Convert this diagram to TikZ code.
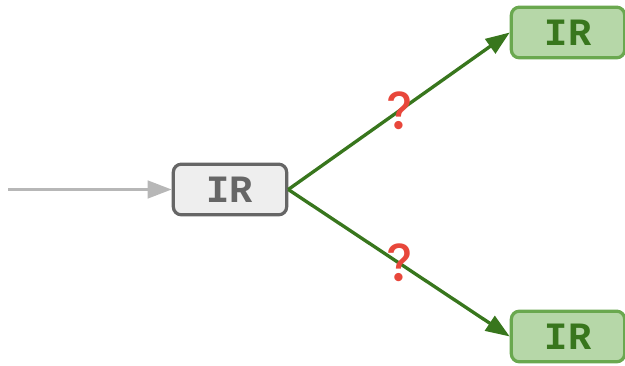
\documentclass[tikz,border=0pt]{standalone}
\usepackage{fontspec}
\setmonofont{Liberation Mono}
\newfontfamily\emojifont{Noto Emoji}
\usepackage{tikz}
\usetikzlibrary{arrows.meta, positioning}

\definecolor{irgray}{HTML}{666666}
\definecolor{irfill}{HTML}{EEEEEE}
\definecolor{okfill}{HTML}{B6D7A8}
\definecolor{okdraw}{HTML}{6AA84F}
\definecolor{oktext}{HTML}{38761D}
\definecolor{inflow}{HTML}{B7B7B7}
\definecolor{qred}{HTML}{E8473B}

\tikzset{
  irbox/.style={draw=irgray, fill=irfill, text=irgray, line width=2.4pt,
    rounded corners=6pt, minimum width=85pt, minimum height=38pt,
    font=\ttfamily\bfseries\fontsize{29}{29}\selectfont},
  okbox/.style={irbox, draw=okdraw, fill=okfill, text=oktext},
  tip/.style={-{Triangle[length=18pt, width=13pt]}},
  branch/.style={draw=oktext, line width=2.5pt, tip},
  maybe/.style={text=qred, font=\emojifont\bfseries\fontsize{28}{28}\selectfont},
}

\begin{document}
\begin{tikzpicture}[x=0.75pt, y=-0.75pt]
  \useasboundingbox (0,0) rectangle (625,366);

  \node[irbox] (cur) at (230,189.5) {IR};
  \node[okbox] (up) at (568,32.5) {IR};
  \node[okbox] (down) at (568,336.5) {IR};
  \coordinate (in) at (8,189.5);

  % incoming flow
  \draw[draw=inflow, line width=2.5pt, tip] (in) -- (cur.west);

  % two possible successors
  \draw[branch] (cur.east) -- node[maybe] (q1) {❓} (up.west);
  \draw[branch] (cur.east) -- node[maybe] (q2) {❓} (down.west);
\end{tikzpicture}
\end{document}
